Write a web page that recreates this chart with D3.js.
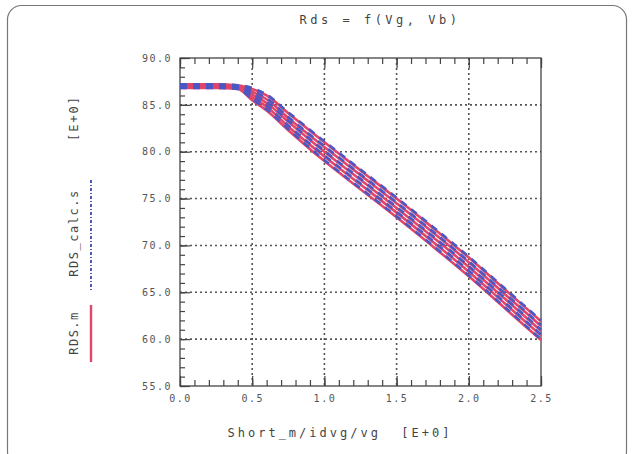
<!DOCTYPE html>
<html><head><meta charset="utf-8">
<script src="https://cdn.jsdelivr.net/npm/d3@7"></script>
<style>body{margin:0;background:#fff}svg text{font-family:"DejaVu Sans Mono",monospace}</style>
</head><body><svg id="c" width="632" height="454"></svg>
<script>
const title = "Rds = f(Vg, Vb)";
const xTitle = "Short_m/idvg/vg  [E+0]";
const xTicks = [0, 0.5, 1.0, 1.5, 2.0, 2.5];
const yTicks = [55, 60, 65, 70, 75, 80, 85, 90];
const xVals = [0, 0.25, 0.4, 0.5, 0.6, 0.75, 1.0, 1.25, 1.5, 1.75, 2.0, 2.25, 2.5];
// measured RDS.m for five Vb values
const meas1 = [87.2, 87.2, 87.1, 86.7, 86.0, 84.1, 81.0, 78.0, 75.0, 71.9, 68.7, 65.3, 61.9];
const meas2 = [87.1, 87.1, 87.0, 86.4, 85.6, 83.6, 80.5, 77.5, 74.5, 71.4, 68.2, 64.8, 61.4];
const meas3 = [87.0, 87.0, 86.9, 86.1, 85.2, 83.2, 80.0, 77.0, 74.0, 70.9, 67.7, 64.3, 60.9];
const meas4 = [86.9, 86.9, 86.8, 85.8, 84.8, 82.7, 79.5, 76.5, 73.5, 70.4, 67.2, 63.8, 60.4];
const meas5 = [86.8, 86.8, 86.7, 85.5, 84.4, 82.3, 79.0, 76.0, 73.0, 69.9, 66.7, 63.3, 59.9];
// calculated RDS_calc.s
const calc1 = [87.2, 87.2, 87.1, 86.8, 86.1, 84.2, 81.1, 78.1, 75.1, 72.0, 68.8, 65.4, 62.0];
const calc2 = [87.1, 87.1, 87.0, 86.5, 85.7, 83.7, 80.6, 77.6, 74.6, 71.5, 68.3, 64.9, 61.5];
const calc3 = [87.0, 87.0, 86.9, 86.2, 85.3, 83.3, 80.1, 77.1, 74.1, 71.0, 67.8, 64.4, 61.0];
const calc4 = [86.9, 86.9, 86.8, 85.9, 84.9, 82.8, 79.6, 76.6, 73.6, 70.5, 67.3, 63.9, 60.5];
const calc5 = [86.8, 86.8, 86.7, 85.6, 84.5, 82.4, 79.1, 76.1, 73.1, 70.0, 66.8, 63.4, 60.0];

const measSeries = [meas1, meas2, meas3, meas4, meas5];
const calcSeries = [calc1, calc2, calc3, calc4, calc5];

const svg = d3.select("#c");
const L = 180, R = 541, T = 58, B = 386;
const x = d3.scaleLinear().domain([0, 2.5]).range([L, R]);
const y = d3.scaleLinear().domain([55, 90]).range([B, T]);
const red = "#e2456a", blue = "#4b58c4", gridC = "#555";

// outer rounded frame
svg.append("rect").attr("x", 7.5).attr("y", 5.5).attr("width", 619).attr("height", 460)
  .attr("rx", 14).attr("fill", "#fff").attr("stroke", "#777").attr("stroke-width", 1.2);

// title
svg.append("text").attr("x", 380).attr("y", 24).attr("text-anchor", "middle")
  .attr("font-size", 12).attr("letter-spacing", 3.5).attr("fill", "#444")
  .attr("xml:space", "preserve").text(title);

// gridlines
const g = svg.append("g");
xTicks.slice(1, -1).forEach(v => g.append("line").attr("x1", x(v)).attr("x2", x(v))
  .attr("y1", T).attr("y2", B).attr("stroke", gridC).attr("stroke-width", 1.6).attr("stroke-dasharray", "2,3"));
yTicks.slice(1, -1).forEach(v => g.append("line").attr("x1", L).attr("x2", R)
  .attr("y1", y(v)).attr("y2", y(v)).attr("stroke", gridC).attr("stroke-width", 1.6).attr("stroke-dasharray", "2,3"));

// minor ticks via axes
const xMinor = d3.range(0, 26).map(i => i / 10);
const yMinor = d3.range(55, 91);
function tickAxis(axis, tr) {
  const a = svg.append("g").attr("transform", tr).call(axis);
  a.select(".domain").remove();
  a.selectAll("line").attr("stroke", "#444").attr("stroke-width", 1.2);
  a.selectAll("text").remove();
  return a;
}
tickAxis(d3.axisBottom(x).tickValues(xMinor).tickSize(-6), `translate(0,${B})`);
tickAxis(d3.axisBottom(x).tickValues(xTicks).tickSize(-10), `translate(0,${B})`);
tickAxis(d3.axisTop(x).tickValues(xMinor).tickSize(-6), `translate(0,${T})`);
tickAxis(d3.axisTop(x).tickValues(xTicks).tickSize(-10), `translate(0,${T})`);
tickAxis(d3.axisLeft(y).tickValues(yMinor).tickSize(-5), `translate(${L},0)`);
tickAxis(d3.axisLeft(y).tickValues(yTicks).tickSize(-10), `translate(${L},0)`);

// frame
svg.append("rect").attr("x", L).attr("y", T).attr("width", R - L).attr("height", B - T)
  .attr("fill", "none").attr("stroke", "#444").attr("stroke-width", 1.3);

// tick labels
const xl = d3.axisBottom(x).tickValues(xTicks).tickFormat(d3.format(".1f")).tickSize(0).tickPadding(9);
const xa = svg.append("g").attr("transform", `translate(0,${B})`).call(xl);
xa.select(".domain").remove();
xa.selectAll("text").attr("font-size", 10).attr("fill", "#555").attr("font-family", "DejaVu Sans Mono").attr("letter-spacing", 1.5);
const yl = d3.axisLeft(y).tickValues(yTicks).tickFormat(d3.format(".1f")).tickSize(0).tickPadding(8);
const ya = svg.append("g").attr("transform", `translate(${L},0)`).call(yl);
ya.select(".domain").remove();
ya.selectAll("text").attr("font-size", 10).attr("fill", "#555").attr("font-family", "DejaVu Sans Mono").attr("letter-spacing", 1.5);

// curves
const line = d3.line().x((d, i) => x(xVals[i])).y(d => y(d)).curve(d3.curveMonotoneX);
const cg = svg.append("g");
measSeries.forEach(s => cg.append("path").attr("d", line(s)).attr("fill", "none")
  .attr("stroke", red).attr("stroke-width", 2.6));
calcSeries.forEach(s => cg.append("path").attr("d", line(s)).attr("fill", "none")
  .attr("stroke", blue).attr("stroke-width", 2.6).attr("stroke-dasharray", "7,6"));

// x title
svg.append("text").attr("x", 340).attr("y", 437).attr("text-anchor", "middle")
  .attr("font-size", 12).attr("letter-spacing", 3).attr("fill", "#444").attr("xml:space", "preserve").text(xTitle);

// y title with legend
const yt = svg.append("g").attr("transform", "translate(78,0) rotate(-90)");
yt.append("text").attr("x", -333).attr("y", 0).attr("text-anchor", "middle").attr("font-size", 12)
  .attr("fill", "#444").attr("letter-spacing", 1.5).text("RDS.m");
yt.append("text").attr("x", -233).attr("y", 0).attr("text-anchor", "middle").attr("font-size", 12)
  .attr("fill", "#444").attr("letter-spacing", 1.5).text("RDS_calc.s");
yt.append("text").attr("x", -118).attr("y", 0).attr("text-anchor", "middle").attr("font-size", 12)
  .attr("fill", "#444").attr("letter-spacing", 2).text("[E+0]");
svg.append("line").attr("x1", 91).attr("x2", 91).attr("y1", 305).attr("y2", 362)
  .attr("stroke", red).attr("stroke-width", 2.4);
svg.append("line").attr("x1", 91).attr("x2", 91).attr("y1", 180).attr("y2", 290)
  .attr("stroke", blue).attr("stroke-width", 2).attr("stroke-dasharray", "3,2,1,2");
</script></body></html>
